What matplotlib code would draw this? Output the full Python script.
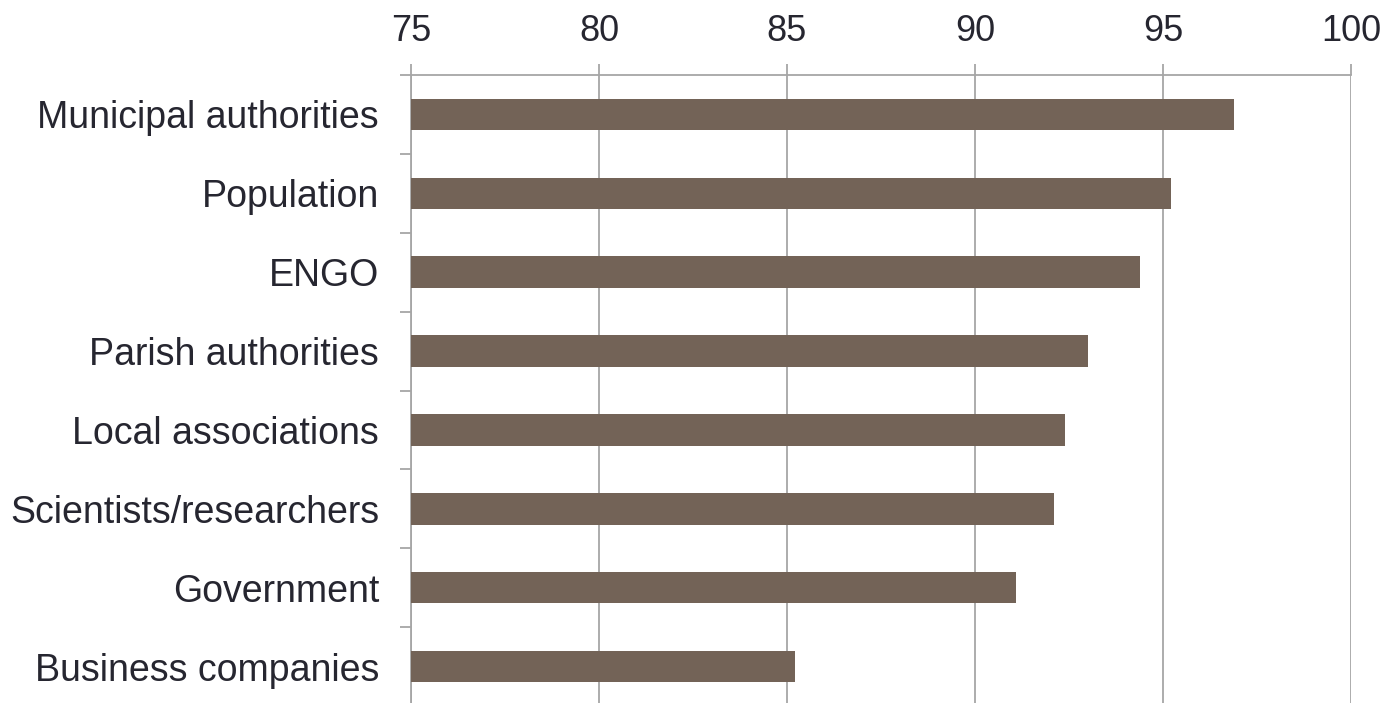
import numpy as np
import matplotlib
matplotlib.use('Agg')
import matplotlib.pyplot as plt

# --- Data ---
categories = ['Municipal authorities', 'Population', 'ENGO', 'Parish authorities',
              'Local associations', 'Scientists/researchers', 'Government',
              'Business companies']
values = [96.9, 95.2, 94.4, 93.0, 92.4, 92.1, 91.1, 85.2]
x_ticks = [75, 80, 85, 90, 95, 100]

BAR_COLOR = '#736357'
GRID_COLOR = '#a6a6a6'
TEXT_COLOR = '#262630'

plt.rcParams['font.family'] = ['Liberation Sans', 'DejaVu Sans']

fig = plt.figure(figsize=(13.87, 7.03), dpi=100)
W, H = 1387, 703
left, right, top, bottom = 411, 1351, 75, 706
ax = fig.add_axes([left / W, 1 - bottom / H, (right - left) / W, (bottom - top) / H])

y = np.arange(len(categories))
ax.barh(y, [v - x_ticks[0] for v in values], left=x_ticks[0], height=0.4,
        color=BAR_COLOR, zorder=3)

ax.set_xlim(x_ticks[0], x_ticks[-1])
ax.set_ylim(len(categories) - 0.5, -0.5)

# x axis on top
ax.xaxis.tick_top()
ax.set_xticks(x_ticks)
ax.set_xticklabels([str(t) for t in x_ticks])
ax.tick_params(axis='x', which='major', length=8, width=1.3, color=GRID_COLOR,
               labelsize=26, labelcolor=TEXT_COLOR, pad=11)
ax.grid(axis='x', color=GRID_COLOR, linewidth=1.3, zorder=0)

# y axis: labels at centres, ticks at boundaries
ax.set_yticks(y)
ax.set_yticklabels(categories)
ax.set_yticks(np.arange(-0.5, len(categories) + 0.5, 1), minor=True)
ax.tick_params(axis='y', which='major', length=0, labelsize=27,
               labelcolor=TEXT_COLOR, pad=23)
ax.tick_params(axis='y', which='minor', length=8, width=1.3, color=GRID_COLOR)

for side in ['right', 'bottom']:
    ax.spines[side].set_visible(False)
for side in ['left', 'top']:
    ax.spines[side].set_color(GRID_COLOR)
    ax.spines[side].set_linewidth(1.3)

fig.savefig('out.png', dpi=100)
